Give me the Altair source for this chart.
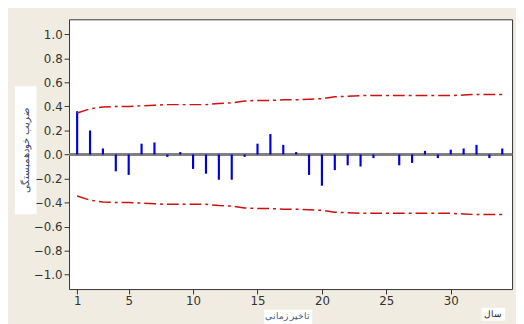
import altair as alt
import pandas as pd

lags = list(range(1, 35))
acf = [0.36, 0.20, 0.05, -0.14, -0.17, 0.09, 0.10, -0.02, 0.02, -0.12,
       -0.16, -0.21, -0.21, -0.02, 0.09, 0.17, 0.08, 0.02, -0.17, -0.26,
       -0.13, -0.09, -0.10, -0.03, 0.0, -0.09, -0.07, 0.03, -0.03, 0.04,
       0.05, 0.08, -0.03, 0.05]
upper = [0.345, 0.38, 0.395, 0.40, 0.40, 0.405, 0.41, 0.415, 0.415, 0.415,
         0.415, 0.425, 0.43, 0.445, 0.45, 0.45, 0.455, 0.455, 0.46, 0.465,
         0.48, 0.485, 0.49, 0.49, 0.49, 0.49, 0.49, 0.49, 0.49, 0.49,
         0.495, 0.50, 0.50, 0.50]
x_ticks = [1, 5, 10, 15, 20, 25, 30]
y_ticks = [-1.0, -0.8, -0.6, -0.4, -0.2, 0.0, 0.2, 0.4, 0.6, 0.8, 1.0]
y_title = "ضریب خودهمبستگی"
x_title = "تاخیر زمانی"
corner_label = "سال"

df = pd.DataFrame({"lag": lags, "acf": acf, "upper": upper,
                   "lower": [-u for u in upper], "zero": [0.0] * len(lags)})

xs = alt.Scale(domain=[0.37, 34.76], nice=False, zero=False)
ys = alt.Scale(domain=[-1.12, 1.125], nice=False, zero=False)

xax = alt.Axis(values=x_ticks, title=None, grid=False, domain=False,
               tickColor="#333333", tickSize=5, labelFontSize=12,
               labelColor="#333333", labelFont="DejaVu Sans", labelPadding=2)
yax = alt.Axis(values=y_ticks, format=".1f", title=None, grid=False, domain=False,
               tickColor="#333333", tickSize=5, labelFontSize=12,
               labelColor="#333333", labelFont="DejaVu Sans", labelPadding=2)

base = alt.Chart(df)

zero_line = base.mark_rule(color="#808080", strokeWidth=2).encode(
    y=alt.datum(0, scale=ys, axis=yax),
)
x_axis_holder = base.mark_point(opacity=0).encode(
    x=alt.X("lag:Q", scale=xs, axis=xax),
    y=alt.Y("zero:Q", scale=ys, axis=yax),
)
bars = base.mark_rule(color="#0000dd", strokeWidth=2.2).encode(
    x=alt.X("lag:Q", scale=xs, axis=xax),
    y=alt.Y("zero:Q", scale=ys, axis=yax),
    y2="acf:Q",
)
up_line = base.mark_line(color="#cc1111", strokeWidth=1.5,
                         strokeDash=[12, 4, 3, 4]).encode(
    x=alt.X("lag:Q", scale=xs, axis=xax),
    y=alt.Y("upper:Q", scale=ys, axis=yax),
)
lo_line = base.mark_line(color="#cc1111", strokeWidth=1.5,
                         strokeDash=[12, 4, 3, 4]).encode(
    x=alt.X("lag:Q", scale=xs, axis=xax),
    y=alt.Y("lower:Q", scale=ys, axis=yax),
)

one = pd.DataFrame({"t": [0]})
ybox = alt.Chart(one).mark_rect(color="white").encode(
    x=alt.value(-55), x2=alt.value(-33), y=alt.value(68), y2=alt.value(198))
ytext = alt.Chart(one).mark_text(angle=270, fontSize=10, color="#334466",
                                 font="Noto Sans").encode(
    x=alt.value(-44), y=alt.value(133), text=alt.value(y_title))
xbox = alt.Chart(one).mark_rect(color="white").encode(
    x=alt.value(198), x2=alt.value(247), y=alt.value(295), y2=alt.value(310))
xtext = alt.Chart(one).mark_text(fontSize=9, color="#445577",
                                 font="Noto Sans", baseline="middle").encode(
    x=alt.value(222), y=alt.value(301), text=alt.value(x_title))
cbox = alt.Chart(one).mark_rect(color="white").encode(
    x=alt.value(419), x2=alt.value(443), y=alt.value(293), y2=alt.value(306))
ctext = alt.Chart(one).mark_text(fontSize=9, color="#222222",
                                 font="Noto Sans").encode(
    x=alt.value(431), y=alt.value(299), text=alt.value(corner_label))

chart = alt.layer(
    x_axis_holder, zero_line, bars, up_line, lo_line,
    ybox, ytext, xbox, xtext, cbox, ctext
).properties(
    width=450, height=274,
    autosize=alt.AutoSizeParams(type="none"),
    padding={"left": 62, "top": 9, "right": 4, "bottom": 33},
    background="#f0ece2",
).configure_view(
    fill="white", stroke="#333333", strokeWidth=1
)

chart.save("out.html", embed_options={"renderer": "svg", "actions": False})
